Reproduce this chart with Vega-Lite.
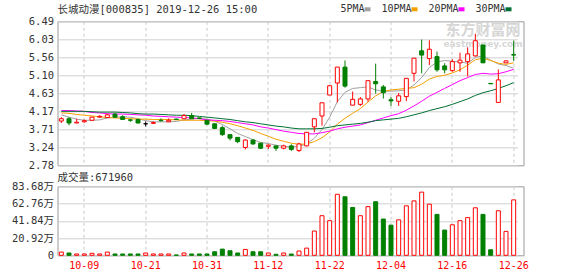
{
  "$schema": "https://vega.github.io/schema/vega-lite/v6.json",
  "padding": {"left": 8.5, "top": 4.3, "right": 0, "bottom": 0},
  "background": "white",
  "spacing": 1,
  "config": {
    "font": "DejaVu Sans Mono, Noto Sans CJK SC",
    "view": {"stroke": "#999999", "strokeWidth": 1},
    "axis": {"labelFont": "DejaVu Sans Mono, Noto Sans CJK SC", "labelFontSize": 10.5, "labelColor": "#333333", "ticks": false, "domain": false, "gridColor": "#d0d0d0", "title": null, "labelOverlap": false},
    "axisY": {"tickCount": 12},
    "title": {"font": "DejaVu Sans Mono, Noto Sans CJK SC", "fontSize": 10.5, "fontWeight": "normal", "color": "#333333", "anchor": "start", "frame": "group", "offset": 1},
    "legend": {"labelFont": "DejaVu Sans Mono, Noto Sans CJK SC", "labelFontSize": 10, "labelColor": "#333333"}
  },
  "datasets": {
    "k": [
      {"d":"09-27","o":3.92,"h":4.02,"l":3.87,"c":3.98,"v":39000,"k":"up","vk":"up","5PMA":4.08,"10PMA":4.13,"20PMA":4.19,"30PMA":4.17},
      {"d":"09-30","o":3.98,"h":4.02,"l":3.81,"c":3.87,"v":28000,"k":"dn","vk":"dn","5PMA":4.02,"10PMA":4.12,"20PMA":4.19,"30PMA":4.17},
      {"d":"10-08","o":3.87,"h":3.98,"l":3.87,"c":3.89,"v":16000,"k":"up","vk":"up","5PMA":3.97,"10PMA":4.09,"20PMA":4.18,"30PMA":4.17},
      {"d":"10-09","o":3.90,"h":3.96,"l":3.88,"c":3.93,"v":16000,"k":"up","vk":"up","5PMA":3.94,"10PMA":4.07,"20PMA":4.17,"30PMA":4.17},
      {"d":"10-10","o":3.94,"h":4.02,"l":3.94,"c":4.02,"v":24000,"k":"up","vk":"up","5PMA":3.94,"10PMA":4.05,"20PMA":4.14,"30PMA":4.16},
      {"d":"10-11","o":4.02,"h":4.07,"l":4.02,"c":4.04,"v":16000,"k":"up","vk":"up","5PMA":3.95,"10PMA":4.03,"20PMA":4.13,"30PMA":4.15},
      {"d":"10-14","o":4.01,"h":4.11,"l":4.01,"c":4.08,"v":39000,"k":"up","vk":"up","5PMA":4.00,"10PMA":4.01,"20PMA":4.11,"30PMA":4.15},
      {"d":"10-15","o":4.10,"h":4.12,"l":4.01,"c":4.02,"v":16000,"k":"dn","vk":"dn","5PMA":4.02,"10PMA":4.00,"20PMA":4.10,"30PMA":4.15},
      {"d":"10-16","o":4.03,"h":4.07,"l":3.95,"c":3.96,"v":16000,"k":"dn","vk":"dn","5PMA":4.03,"10PMA":3.99,"20PMA":4.10,"30PMA":4.14},
      {"d":"10-17","o":3.95,"h":3.98,"l":3.90,"c":3.94,"v":16000,"k":"dn","vk":"dn","5PMA":4.02,"10PMA":3.98,"20PMA":4.09,"30PMA":4.13},
      {"d":"10-18","o":3.96,"h":3.98,"l":3.86,"c":3.87,"v":16000,"k":"dn","vk":"dn","5PMA":3.98,"10PMA":3.97,"20PMA":4.08,"30PMA":4.11},
      {"d":"10-21","o":3.85,"h":3.91,"l":3.78,"c":3.85,"v":28000,"k":"flat","vk":"up","5PMA":3.93,"10PMA":3.97,"20PMA":4.07,"30PMA":4.10},
      {"d":"10-22","o":3.86,"h":3.91,"l":3.85,"c":3.88,"v":16000,"k":"up","vk":"up","5PMA":3.90,"10PMA":3.96,"20PMA":4.05,"30PMA":4.10},
      {"d":"10-23","o":3.94,"h":3.99,"l":3.91,"c":3.93,"v":16000,"k":"dn","vk":"up","5PMA":3.90,"10PMA":3.96,"20PMA":4.04,"30PMA":4.09},
      {"d":"10-24","o":3.90,"h":3.99,"l":3.90,"c":3.94,"v":16000,"k":"up","vk":"up","5PMA":3.90,"10PMA":3.96,"20PMA":4.03,"30PMA":4.08},
      {"d":"10-25","o":3.97,"h":3.98,"l":3.95,"c":3.96,"v":4000,"k":"dn","vk":"dn","5PMA":3.91,"10PMA":3.95,"20PMA":4.02,"30PMA":4.07},
      {"d":"10-28","o":3.98,"h":4.10,"l":3.98,"c":4.06,"v":28000,"k":"up","vk":"up","5PMA":3.95,"10PMA":3.94,"20PMA":4.01,"30PMA":4.07},
      {"d":"10-29","o":4.06,"h":4.13,"l":3.98,"c":3.98,"v":16000,"k":"dn","vk":"dn","5PMA":3.97,"10PMA":3.94,"20PMA":4.00,"30PMA":4.06},
      {"d":"10-30","o":4.00,"h":4.01,"l":3.97,"c":3.99,"v":16000,"k":"dn","vk":"dn","5PMA":3.99,"10PMA":3.94,"20PMA":3.98,"30PMA":4.04},
      {"d":"10-31","o":3.94,"h":3.94,"l":3.82,"c":3.84,"v":16000,"k":"dn","vk":"dn","5PMA":3.97,"10PMA":3.93,"20PMA":3.95,"30PMA":4.02},
      {"d":"11-01","o":3.85,"h":3.86,"l":3.72,"c":3.73,"v":43000,"k":"dn","vk":"dn","5PMA":3.92,"10PMA":3.92,"20PMA":3.94,"30PMA":4.00},
      {"d":"11-04","o":3.75,"h":3.80,"l":3.54,"c":3.57,"v":75000,"k":"dn","vk":"dn","5PMA":3.83,"10PMA":3.89,"20PMA":3.93,"30PMA":3.98},
      {"d":"11-05","o":3.57,"h":3.57,"l":3.42,"c":3.48,"v":55000,"k":"dn","vk":"dn","5PMA":3.72,"10PMA":3.85,"20PMA":3.91,"30PMA":3.96},
      {"d":"11-06","o":3.50,"h":3.50,"l":3.35,"c":3.39,"v":28000,"k":"dn","vk":"dn","5PMA":3.60,"10PMA":3.80,"20PMA":3.88,"30PMA":3.93},
      {"d":"11-07","o":3.24,"h":3.45,"l":3.19,"c":3.43,"v":71000,"k":"up","vk":"up","5PMA":3.52,"10PMA":3.74,"20PMA":3.85,"30PMA":3.90},
      {"d":"11-08","o":3.43,"h":3.45,"l":3.31,"c":3.33,"v":43000,"k":"dn","vk":"dn","5PMA":3.44,"10PMA":3.68,"20PMA":3.82,"30PMA":3.88},
      {"d":"11-11","o":3.35,"h":3.36,"l":3.20,"c":3.22,"v":43000,"k":"dn","vk":"dn","5PMA":3.37,"10PMA":3.60,"20PMA":3.77,"30PMA":3.85},
      {"d":"11-12","o":3.27,"h":3.32,"l":3.20,"c":3.30,"v":28000,"k":"up","vk":"up","5PMA":3.34,"10PMA":3.53,"20PMA":3.74,"30PMA":3.82},
      {"d":"11-13","o":3.28,"h":3.28,"l":3.15,"c":3.22,"v":12000,"k":"dn","vk":"dn","5PMA":3.30,"10PMA":3.45,"20PMA":3.70,"30PMA":3.79},
      {"d":"11-14","o":3.22,"h":3.31,"l":3.19,"c":3.28,"v":28000,"k":"up","vk":"up","5PMA":3.27,"10PMA":3.40,"20PMA":3.66,"30PMA":3.77},
      {"d":"11-15","o":3.28,"h":3.32,"l":3.15,"c":3.19,"v":15000,"k":"dn","vk":"dn","5PMA":3.25,"10PMA":3.35,"20PMA":3.63,"30PMA":3.74},
      {"d":"11-18","o":3.16,"h":3.36,"l":3.12,"c":3.33,"v":52000,"k":"up","vk":"up","5PMA":3.27,"10PMA":3.32,"20PMA":3.60,"30PMA":3.72},
      {"d":"11-19","o":3.28,"h":3.63,"l":3.27,"c":3.63,"v":87000,"k":"up","vk":"up","5PMA":3.33,"10PMA":3.33,"20PMA":3.59,"30PMA":3.72},
      {"d":"11-20","o":3.77,"h":3.98,"l":3.63,"c":3.98,"v":294000,"k":"up","vk":"up","5PMA":3.48,"10PMA":3.39,"20PMA":3.59,"30PMA":3.72},
      {"d":"11-21","o":4.05,"h":4.39,"l":3.80,"c":4.39,"v":480000,"k":"up","vk":"up","5PMA":3.70,"10PMA":3.49,"20PMA":3.62,"30PMA":3.73},
      {"d":"11-22","o":4.59,"h":4.83,"l":4.59,"c":4.83,"v":420000,"k":"up","vk":"up","5PMA":4.02,"10PMA":3.64,"20PMA":3.66,"30PMA":3.76},
      {"d":"11-25","o":4.90,"h":5.31,"l":4.40,"c":5.31,"v":740000,"k":"up","vk":"up","5PMA":4.42,"10PMA":3.84,"20PMA":3.72,"30PMA":3.80},
      {"d":"11-26","o":5.31,"h":5.48,"l":4.78,"c":4.82,"v":710000,"k":"dn","vk":"dn","5PMA":4.66,"10PMA":3.99,"20PMA":3.76,"30PMA":3.82},
      {"d":"11-27","o":4.33,"h":4.68,"l":4.33,"c":4.48,"v":580000,"k":"up","vk":"dn","5PMA":4.76,"10PMA":4.12,"20PMA":3.79,"30PMA":3.84},
      {"d":"11-28","o":4.35,"h":4.54,"l":4.31,"c":4.49,"v":480000,"k":"up","vk":"up","5PMA":4.78,"10PMA":4.24,"20PMA":3.82,"30PMA":3.86},
      {"d":"11-29","o":4.49,"h":4.96,"l":4.42,"c":4.96,"v":590000,"k":"up","vk":"up","5PMA":4.80,"10PMA":4.41,"20PMA":3.88,"30PMA":3.89},
      {"d":"12-02","o":4.94,"h":5.40,"l":4.63,"c":4.88,"v":650000,"k":"dn","vk":"dn","5PMA":4.72,"10PMA":4.57,"20PMA":3.94,"30PMA":3.93},
      {"d":"12-03","o":4.80,"h":4.85,"l":4.50,"c":4.65,"v":440000,"k":"dn","vk":"dn","5PMA":4.69,"10PMA":4.68,"20PMA":4.00,"30PMA":3.95},
      {"d":"12-04","o":4.47,"h":4.54,"l":4.31,"c":4.44,"v":365000,"k":"dn","vk":"dn","5PMA":4.69,"10PMA":4.72,"20PMA":4.06,"30PMA":3.97},
      {"d":"12-05","o":4.43,"h":4.64,"l":4.31,"c":4.57,"v":430000,"k":"up","vk":"up","5PMA":4.70,"10PMA":4.74,"20PMA":4.11,"30PMA":3.99},
      {"d":"12-06","o":4.55,"h":5.02,"l":4.43,"c":5.02,"v":600000,"k":"up","vk":"up","5PMA":4.72,"10PMA":4.76,"20PMA":4.20,"30PMA":4.03},
      {"d":"12-09","o":5.15,"h":5.54,"l":4.94,"c":5.54,"v":660000,"k":"up","vk":"up","5PMA":4.85,"10PMA":4.78,"20PMA":4.31,"30PMA":4.08},
      {"d":"12-10","o":5.73,"h":6.02,"l":5.15,"c":5.62,"v":766000,"k":"dn","vk":"up","5PMA":5.04,"10PMA":4.87,"20PMA":4.43,"30PMA":4.13},
      {"d":"12-11","o":5.53,"h":6.00,"l":5.36,"c":5.77,"v":620000,"k":"up","vk":"up","5PMA":5.30,"10PMA":5.00,"20PMA":4.56,"30PMA":4.19},
      {"d":"12-12","o":5.58,"h":5.71,"l":5.19,"c":5.24,"v":496000,"k":"dn","vk":"dn","5PMA":5.44,"10PMA":5.07,"20PMA":4.66,"30PMA":4.24},
      {"d":"12-13","o":5.34,"h":5.41,"l":5.15,"c":5.24,"v":306000,"k":"dn","vk":"dn","5PMA":5.48,"10PMA":5.10,"20PMA":4.76,"30PMA":4.29},
      {"d":"12-16","o":5.22,"h":5.51,"l":5.19,"c":5.45,"v":370000,"k":"up","vk":"up","5PMA":5.46,"10PMA":5.16,"20PMA":4.86,"30PMA":4.35},
      {"d":"12-17","o":5.42,"h":5.68,"l":5.19,"c":5.49,"v":420000,"k":"up","vk":"up","5PMA":5.44,"10PMA":5.24,"20PMA":4.96,"30PMA":4.42},
      {"d":"12-18","o":5.45,"h":5.82,"l":5.07,"c":5.65,"v":457000,"k":"up","vk":"up","5PMA":5.41,"10PMA":5.36,"20PMA":5.04,"30PMA":4.49},
      {"d":"12-19","o":5.60,"h":6.17,"l":5.58,"c":5.99,"v":576000,"k":"up","vk":"up","5PMA":5.56,"10PMA":5.50,"20PMA":5.12,"30PMA":4.58},
      {"d":"12-20","o":5.88,"h":5.88,"l":5.42,"c":5.42,"v":496000,"k":"dn","vk":"dn","5PMA":5.60,"10PMA":5.54,"20PMA":5.15,"30PMA":4.65},
      {"d":"12-23","o":4.89,"h":4.89,"l":4.88,"c":4.88,"v":67000,"k":"dn","vk":"dn","5PMA":5.49,"10PMA":5.48,"20PMA":5.13,"30PMA":4.70},
      {"d":"12-24","o":4.40,"h":5.25,"l":4.40,"c":4.98,"v":540000,"k":"up","vk":"up","5PMA":5.39,"10PMA":5.41,"20PMA":5.14,"30PMA":4.76},
      {"d":"12-25","o":5.42,"h":5.48,"l":5.42,"c":5.47,"v":290000,"k":"up","vk":"up","5PMA":5.35,"10PMA":5.38,"20PMA":5.19,"30PMA":4.83},
      {"d":"12-26","o":5.63,"h":5.99,"l":5.47,"c":5.62,"v":671960,"k":"dn","vk":"up","5PMA":5.28,"10PMA":5.42,"20PMA":5.25,"30PMA":4.91}
    ]
  },
  "vconcat": [
    {
      "width": 466,
      "height": 144,
      "title": {"text": "长城动漫[000835] 2019-12-26 15:00"},
      "data": {"name": "k"},
      "encoding": {
        "x": {
          "field": "d", "type": "ordinal", "sort": null,
          "scale": {"domain": ["09-27","09-30","10-08","10-09","10-10","10-11","10-14","10-15","10-16","10-17","10-18","10-21","10-22","10-23","10-24","10-25","10-28","10-29","10-30","10-31","11-01","11-04","11-05","11-06","11-07","11-08","11-11","11-12","11-13","11-14","11-15","11-18","11-19","11-20","11-21","11-22","11-25","11-26","11-27","11-28","11-29","12-02","12-03","12-04","12-05","12-06","12-09","12-10","12-11","12-12","12-13","12-16","12-17","12-18","12-19","12-20","12-23","12-24","12-25","12-26"], "range": [0, 460], "paddingInner": 0, "paddingOuter": 0},
          "axis": {"values": ["10-09","10-21","10-31","11-12","11-22","12-04","12-16","12-26"], "labels": false, "grid": true, "gridDash": [3, 3], "gridColor": "#c8c8c8", "bandPosition": 0.5, "minExtent": 0, "maxExtent": 0}
        }
      },
      "layer": [
        {
          "data": {"values": [{"t": "东方财富网", "u": "eastmoney.com"}]},
          "mark": {"type": "text", "font": "Noto Sans CJK SC", "fontSize": 15, "fontWeight": "bold", "color": "#d6d6d6"},
          "encoding": {"x": {"datum": "12-20"}, "y": {"datum": 6.27, "axis": {"values": [2.78, 3.24, 3.71, 4.17, 4.63, 5.10, 5.56, 6.03, 6.49], "tickCount": 12, "format": ".2f", "grid": true, "labelOverlap": false, "labelPadding": 4, "minExtent": 48, "maxExtent": 48}}, "text": {"field": "t"}}
        },
        {
          "data": {"values": [{"t": "东方财富网", "u": "eastmoney.com"}]},
          "mark": {"type": "text", "font": "DejaVu Sans", "fontSize": 9, "fontWeight": "bold", "color": "#d6d6d6"},
          "encoding": {"x": {"datum": "12-20"}, "y": {"datum": 5.91}, "text": {"field": "u"}}
        },
        {
          "transform": [{"fold": ["5PMA", "10PMA", "20PMA", "30PMA"], "as": ["ma", "val"]}],
          "mark": {"type": "line", "strokeWidth": 1},
          "encoding": {
            "y": {
              "field": "val", "type": "quantitative",
              "scale": {"domain": [2.78, 6.49], "zero": false, "nice": false},
              "axis": {"values": [2.78, 3.24, 3.71, 4.17, 4.63, 5.10, 5.56, 6.03, 6.49], "tickCount": 12, "format": ".2f", "grid": true, "labelOverlap": false, "labelPadding": 4, "minExtent": 48, "maxExtent": 48}
            },
            "color": {
              "field": "ma", "type": "nominal",
              "scale": {"domain": ["5PMA", "10PMA", "20PMA", "30PMA"], "range": ["#a0a0a0", "#f5a000", "#ff00ff", "#006f32"]},
              "legend": {"title": null, "orient": "none", "direction": "horizontal", "legendX": 305, "legendY": -17, "symbolType": "stroke", "symbolStrokeWidth": 4, "symbolSize": 36, "labelAlign": "right", "labelOffset": -8, "columnPadding": 2}
            }
          }
        },
        {
          "mark": {"type": "rule", "strokeWidth": 1},
          "encoding": {
            "y": {"field": "l", "type": "quantitative"},
            "y2": {"field": "h"},
            "color": {"condition": [{"test": "datum.k === 'up'", "value": "#ff0000"}, {"test": "datum.k === 'flat'", "value": "#000000"}], "value": "#008000"}
          }
        },
        {
          "mark": {"type": "bar", "size": 4, "strokeWidth": 1},
          "encoding": {
            "y": {"field": "o", "type": "quantitative"},
            "y2": {"field": "c"},
            "fill": {"condition": [{"test": "datum.k === 'up'", "value": "#ffffff"}, {"test": "datum.k === 'flat'", "value": "#000000"}], "value": "#008000"},
            "stroke": {"condition": [{"test": "datum.k === 'up'", "value": "#ff0000"}, {"test": "datum.k === 'flat'", "value": "#000000"}], "value": "#008000"}
          }
        }
      ]
    },
    {
      "width": 466,
      "height": 69,
      "title": {"text": "成交量:671960", "offset": -2},
      "data": {"name": "k"},
      "mark": {"type": "bar", "size": 4, "strokeWidth": 1},
      "encoding": {
        "x": {
          "field": "d", "type": "ordinal", "sort": null,
          "scale": {"domain": ["09-27","09-30","10-08","10-09","10-10","10-11","10-14","10-15","10-16","10-17","10-18","10-21","10-22","10-23","10-24","10-25","10-28","10-29","10-30","10-31","11-01","11-04","11-05","11-06","11-07","11-08","11-11","11-12","11-13","11-14","11-15","11-18","11-19","11-20","11-21","11-22","11-25","11-26","11-27","11-28","11-29","12-02","12-03","12-04","12-05","12-06","12-09","12-10","12-11","12-12","12-13","12-16","12-17","12-18","12-19","12-20","12-23","12-24","12-25","12-26"], "range": [0, 460], "paddingInner": 0, "paddingOuter": 0},
          "axis": {"values": ["10-09","10-21","10-31","11-12","11-22","12-04","12-16","12-26"], "labelColor": "#ff0000", "labelFontSize": 10, "labelAngle": 0, "labelPadding": 5, "grid": true, "gridDash": [3, 3], "gridColor": "#c8c8c8", "bandPosition": 0.5}
        },
        "y": {
          "field": "v", "type": "quantitative",
          "scale": {"domain": [0, 836800], "nice": false},
          "axis": {"values": [0, 209200, 418400, 627600, 836800], "tickCount": 12, "labelExpr": "datum.value == 0 ? '0' : format(datum.value / 10000, '.2f') + '万'", "grid": true, "labelOverlap": false, "labelPadding": 4, "minExtent": 48, "maxExtent": 48}
        },
        "fill": {"condition": {"test": "datum.vk === 'up'", "value": "#ffffff"}, "value": "#008000"},
        "stroke": {"condition": {"test": "datum.vk === 'up'", "value": "#ff0000"}, "value": "#008000"}
      }
    }
  ]
}
